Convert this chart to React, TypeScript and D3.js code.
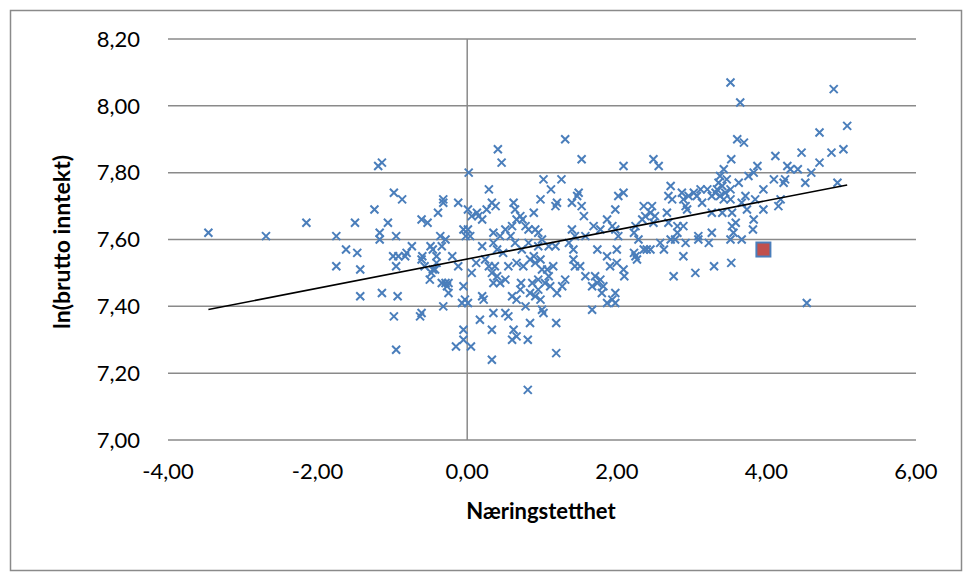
import React, { useEffect, useRef } from 'react';
import * as d3 from 'd3';

// Næringstetthet (x) and ln(brutto inntekt) (y)
const xValues = [
  -3.46, -2.69, -2.15, -1.75, -1.62, -1.75, -1.50, -1.47,
  -1.14, -1.19, -0.98, -0.87, -1.24, -1.06, -0.61, -0.53, -0.39, -0.32, -0.32, -1.17, -1.17, -0.95, -0.99, -0.92, -0.81, -0.74, -0.83, -0.49, -0.46, -0.36, -0.29, -0.34, -0.60, -0.41,
  -1.43, -0.95, -0.61, -0.57, -0.41, -0.46, -0.48, -0.50, -0.43, -0.34, -0.29, -0.27, -0.25, -1.43, -1.14, -0.93, -0.32, -0.61, -0.63, -0.98, -0.95,
  0.41, 0.46, 0.02, 1.02, 0.29, -0.12, 0.33, 0.38, 0.26, 0.62, 0.98, 0.89, 0.01, 0.13, 0.06, 0.20, 0.15, 0.64, 0.71, 0.66, 0.74, 0.60, 0.78, 0.82, 0.91, 0.95, -0.05, 0.01, -0.02, 0.04, 0.35, 0.51, 0.44, 0.58, 0.20, 0.35, 0.40, 0.48, 0.64, 0.82, 0.95, 1.00, 0.73,
  -0.20, -0.12, 0.12, 0.06, 0.24, 0.29, 0.37, 0.33, 0.40, 0.44, 0.51, 0.35, 0.55, 0.66, 0.75, 0.84, 0.91, 0.98, 0.89, 1.00, -0.25, -0.05, -0.03, -0.07, 0.01, 0.20, 0.22, 0.72, 0.71, 0.60, 0.66, 0.78, 0.87, 0.84, 0.91, 1.00, 0.95, 0.17, 0.35, 0.51, 0.55, -0.05, 0.33, 0.62, 0.84, -0.05, 0.05, -0.15, 0.60, 0.66, 0.81, 0.33, 0.81,
  1.31, 1.53, 2.09, 1.26, 1.12, 1.20, 1.18, 1.40, 1.49, 1.47, 1.53, 1.56, 2.02, 2.09, 1.98, 1.87, 1.94, 1.69, 1.78, 1.40, 1.44, 1.58, 1.98, 2.02, 2.23, 1.09, 1.18, 1.36,
  1.42, 1.74, 1.87, 2.00, 2.23, 1.42, 1.51, 1.44, 1.91, 2.00, 2.09, 2.10, 2.25, 1.07, 1.15, 1.09, 0.95, 1.04, 1.11, 1.31, 1.27, 1.20, 1.58, 1.71, 1.78, 1.67, 1.82, 1.74, 1.80, 1.98, 1.87, 1.98, 1.94, 0.98, 1.02, 1.67, 1.19, 1.19,
  3.52, 3.65, 3.61, 3.70, 3.53, 2.49, 2.56, 3.43, 3.38, 3.47, 3.36, 3.63, 3.34, 3.41, 3.52, 3.45, 3.38, 3.32, 3.52, 3.43, 3.27, 3.21, 3.12, 3.03, 3.07, 2.96, 2.87, 2.89, 2.72, 2.69, 2.74, 2.92, 2.94, 3.14, 3.27, 3.41, 3.54, 3.59, 3.67, 2.36, 2.47, 2.38, 2.45, 2.51, 2.49, 2.34, 2.67, 2.69, 2.81, 2.81, 2.89, 3.09, 3.54, 3.56, 3.27, 2.25,
  2.29, 2.40, 2.36, 2.45, 2.58, 2.63, 2.72, 2.78, 2.92, 3.09, 3.23, 3.52, 3.67, 2.27, 2.89, 3.05, 3.30, 3.53, 2.76,
  4.90, 5.08, 4.71, 5.03, 4.87, 4.47, 4.12, 4.71, 4.60, 4.52, 4.95, 4.42, 4.28, 4.32, 4.25, 4.23, 3.88, 3.83, 3.76, 4.10, 3.96, 3.72, 3.85, 4.19, 4.16, 3.74, 3.96, 3.83, 3.82, 4.54,
];
const yValues = [
  7.62, 7.61, 7.65, 7.61, 7.57, 7.52, 7.65, 7.56,
  7.83, 7.82, 7.74, 7.72, 7.69, 7.65, 7.66, 7.65, 7.68, 7.72, 7.71, 7.62, 7.60, 7.61, 7.55, 7.55, 7.56, 7.58, 7.55, 7.58, 7.57, 7.61, 7.60, 7.58, 7.55, 7.55,
  7.51, 7.52, 7.54, 7.52, 7.53, 7.51, 7.50, 7.48, 7.51, 7.47, 7.47, 7.46, 7.44, 7.43, 7.44, 7.43, 7.40, 7.38, 7.37, 7.37, 7.27,
  7.87, 7.83, 7.80, 7.78, 7.75, 7.71, 7.71, 7.70, 7.69, 7.71, 7.72, 7.68, 7.69, 7.68, 7.67, 7.66, 7.67, 7.69, 7.67, 7.66, 7.66, 7.64, 7.64, 7.63, 7.63, 7.62, 7.63, 7.63, 7.61, 7.61, 7.62, 7.63, 7.61, 7.61, 7.58, 7.59, 7.57, 7.56, 7.59, 7.59, 7.58, 7.60, 7.57,
  7.55, 7.52, 7.53, 7.50, 7.54, 7.52, 7.52, 7.50, 7.49, 7.47, 7.48, 7.47, 7.52, 7.53, 7.52, 7.54, 7.53, 7.54, 7.55, 7.51, 7.47, 7.46, 7.42, 7.41, 7.41, 7.43, 7.42, 7.47, 7.45, 7.43, 7.42, 7.40, 7.47, 7.44, 7.43, 7.39, 7.45, 7.36, 7.38, 7.38, 7.37, 7.33, 7.33, 7.33, 7.35, 7.30, 7.28, 7.28, 7.30, 7.31, 7.30, 7.24, 7.15,
  7.90, 7.84, 7.82, 7.78, 7.75, 7.71, 7.70, 7.71, 7.74, 7.73, 7.70, 7.67, 7.73, 7.74, 7.69, 7.66, 7.64, 7.64, 7.63, 7.63, 7.61, 7.61, 7.63, 7.61, 7.62, 7.58, 7.58, 7.59,
  7.57, 7.57, 7.55, 7.57, 7.56, 7.54, 7.52, 7.52, 7.52, 7.53, 7.51, 7.49, 7.55, 7.51, 7.52, 7.49, 7.48, 7.47, 7.46, 7.48, 7.46, 7.44, 7.49, 7.49, 7.48, 7.46, 7.46, 7.47, 7.44, 7.44, 7.41, 7.41, 7.42, 7.42, 7.38, 7.39, 7.35, 7.26,
  8.07, 8.01, 7.90, 7.89, 7.84, 7.84, 7.82, 7.81, 7.79, 7.78, 7.77, 7.77, 7.75, 7.76, 7.75, 7.74, 7.73, 7.74, 7.72, 7.72, 7.73, 7.75, 7.75, 7.74, 7.73, 7.73, 7.74, 7.72, 7.76, 7.73, 7.72, 7.70, 7.69, 7.71, 7.68, 7.68, 7.68, 7.65, 7.71, 7.70, 7.70, 7.67, 7.68, 7.67, 7.65, 7.66, 7.68, 7.65, 7.64, 7.62, 7.64, 7.61, 7.64, 7.62, 7.62, 7.64,
  7.60, 7.57, 7.57, 7.57, 7.59, 7.57, 7.60, 7.60, 7.59, 7.60, 7.59, 7.60, 7.60, 7.54, 7.55, 7.50, 7.52, 7.53, 7.49,
  8.05, 7.94, 7.92, 7.87, 7.86, 7.86, 7.85, 7.83, 7.80, 7.77, 7.77, 7.81, 7.82, 7.81, 7.78, 7.77, 7.82, 7.80, 7.79, 7.78, 7.75, 7.73, 7.72, 7.72, 7.70, 7.69, 7.69, 7.66, 7.63, 7.41,
];

// second series: the single highlighted square
const highlightX = [3.96];
const highlightY = [7.57];

const xTicks = [-4, -2, 0, 2, 4, 6];
const yTicks = [7.0, 7.2, 7.4, 7.6, 7.8, 8.0, 8.2];

const W = 973;
const H = 581;

const App = () => {
  const svgRef = useRef<SVGSVGElement>(null);

  useEffect(() => {
    const svg = d3.select(svgRef.current);
    svg.selectAll('*').remove();

    const x = d3.scaleLinear().domain([-4, 6]).range([168, 916]);
    const y = d3.scaleLinear().domain([7, 8.2]).range([440, 39]);

    const locale = d3.formatLocale({ decimal: ',', thousands: ' ', grouping: [3], currency: ['', ''], minus: '-' });
    const fmt = locale.format('.2f');

    const font = 'Lato, "Open Sans", sans-serif';
    const gridColor = '#8a8a8a';
    const blue = '#4a7ebb';

    svg.append('rect')
      .attr('width', W).attr('height', H)
      .attr('fill', '#fff');

    // chart frame
    svg.append('rect')
      .attr('x', 10.5).attr('y', 10.5)
      .attr('width', 951).attr('height', 560)
      .attr('fill', 'none')
      .attr('stroke', gridColor)
      .attr('stroke-width', 1.5);

    // horizontal gridlines
    svg.append('g')
      .selectAll('line')
      .data(yTicks)
      .enter().append('line')
      .attr('x1', x(-4)).attr('x2', x(6))
      .attr('y1', d => y(d)).attr('y2', d => y(d))
      .attr('stroke', gridColor)
      .attr('stroke-width', 1.5);

    // vertical axis at x = 0
    svg.append('line')
      .attr('x1', x(0)).attr('x2', x(0))
      .attr('y1', y(8.2)).attr('y2', y(7))
      .attr('stroke', gridColor)
      .attr('stroke-width', 1.5);

    // tick labels
    svg.append('g')
      .selectAll('text')
      .data(yTicks)
      .enter().append('text')
      .attr('x', 140)
      .attr('y', d => y(d))
      .attr('dy', '0.35em')
      .attr('text-anchor', 'end')
      .style('font-family', font)
      .style('font-size', '22px')
      .attr('fill', '#000')
      .text(d => fmt(d));

    svg.append('g')
      .selectAll('text')
      .data(xTicks)
      .enter().append('text')
      .attr('x', d => x(d))
      .attr('y', 471)
      .attr('dy', '0.35em')
      .attr('text-anchor', 'middle')
      .style('font-family', font)
      .style('font-size', '22px')
      .attr('fill', '#000')
      .text(d => fmt(d));

    // axis titles
    svg.append('text')
      .attr('transform', 'translate(62,242) rotate(-90)')
      .attr('dy', '0.35em')
      .attr('text-anchor', 'middle')
      .style('font-family', font)
      .style('font-size', '23px')
      .style('font-weight', 'bold')
      .text('ln(brutto inntekt)');

    svg.append('text')
      .attr('x', 541)
      .attr('y', 511)
      .attr('dy', '0.35em')
      .attr('text-anchor', 'middle')
      .style('font-family', font)
      .style('font-size', '22px')
      .style('font-weight', 'bold')
      .text('Næringstetthet');

    // scatter markers
    const points = xValues.map((v, i) => [v, yValues[i]] as [number, number]);
    const s = 4;
    svg.append('g')
      .selectAll('path')
      .data(points)
      .enter().append('path')
      .attr('d', `M${-s},${-s}L${s},${s}M${-s},${s}L${s},${-s}`)
      .attr('transform', d => `translate(${x(d[0])},${y(d[1])})`)
      .attr('fill', 'none')
      .attr('stroke', blue)
      .attr('stroke-width', 2);

    // linear trendline (least squares on the series)
    const mx = d3.mean(xValues) as number;
    const my = d3.mean(yValues) as number;
    let sxy = 0;
    let sxx = 0;
    xValues.forEach((v, i) => {
      sxy += (v - mx) * (yValues[i] - my);
      sxx += (v - mx) * (v - mx);
    });
    const slope = sxy / sxx;
    const intercept = my - slope * mx;
    const [x0, x1] = d3.extent(xValues) as [number, number];
    const line = d3.line<number>()
      .x(d => x(d))
      .y(d => y(intercept + slope * d));
    svg.append('path')
      .attr('d', line([x0, x1]))
      .attr('fill', 'none')
      .attr('stroke', '#000')
      .attr('stroke-width', 1.6);

    // highlighted point
    svg.append('g')
      .selectAll('rect')
      .data(highlightX.map((v, i) => [v, highlightY[i]] as [number, number]))
      .enter().append('rect')
      .attr('x', d => x(d[0]) - 7)
      .attr('y', d => y(d[1]) - 7)
      .attr('width', 14)
      .attr('height', 14)
      .attr('fill', '#c0504d')
      .attr('stroke', blue)
      .attr('stroke-width', 2);
  }, []);

  return <svg ref={svgRef} width={W} height={H} style={{ position: 'absolute', left: 0, top: 0 }}></svg>;
};

export default App;
